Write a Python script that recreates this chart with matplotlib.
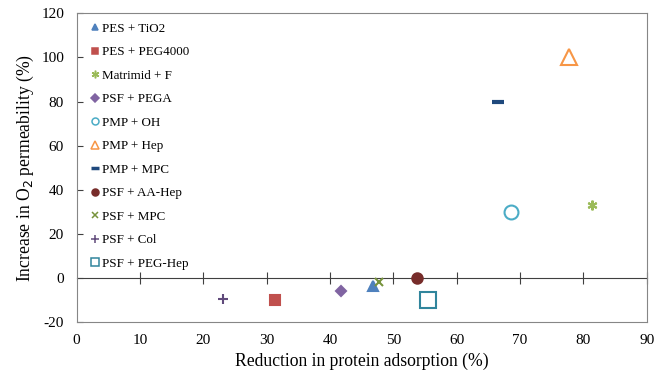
'''
Scatter of O2 permeability increase vs reduction in protein adsorption
'''

import matplotlib.pyplot as plt

plt.rcParams['font.family'] = ['Liberation Serif', 'DejaVu Serif']
plt.rcParams['axes.unicode_minus'] = False

labels = ["PES + TiO2", "PES + PEG4000", "Matrimid + F", "PSF + PEGA",
          "PMP + OH", "PMP + Hep", "PMP + MPC", "PSF + AA-Hep",
          "PSF + MPC", "PSF + Col", "PSF + PEG-Hep"]
reduction = [46.8, 31.3, 81.3, 41.7, 68.6, 77.8, 66.6, 53.8, 47.7, 23.1, 55.5]
increase = [-4, -10, 33, -6, 30, 100, 80, 0, -2, -9.5, -10]

# marker, colour, size, filled, legend size
styles = [
    ("^", "#4F81BD", 7, True, 5),
    ("s", "#C0504D", 7, True, 5),
    ((6, 2, 0), "#9BBB59", 7, True, 5.5),
    ("D", "#8064A2", 5.5, True, 4),
    ("o", "#4BACC6", 10, False, 5),
    ("^", "#F79646", 12, False, 5.5),
    ("_", "#1F497D", 8, True, 6),
    ("o", "#772C2A", 7.5, True, 5),
    ("x", "#77933C", 6, True, 5),
    ("+", "#604A7B", 6.5, True, 5.5),
    ("s", "#31859C", 11, False, 5.5),
]

fig = plt.figure(figsize=(6.66, 3.73), dpi=100)
ax = fig.add_axes([0.115, 0.1375, 0.856, 0.8265])

for lab, x, y, (m, c, s, filled, ls) in zip(labels, reduction, increase, styles):
    ew = 1.5
    if m == "_":
        ew = 3
    ax.plot([x], [y], linestyle="none", marker=m, markersize=s,
            color=c, markerfacecolor=c if filled else "white",
            markeredgecolor=c, markeredgewidth=ew, label=lab)

ax.set_xlim(0, 90)
ax.set_ylim(-20, 120)
ax.set_xticks(range(0, 91, 10))
ax.set_yticks(range(-20, 121, 20))
ax.tick_params(axis="y", direction="in", length=4, labelsize=11, pad=9,
               color="#404040")
ax.tick_params(axis="x", length=0, labelsize=11, pad=9)
for sp in ax.spines.values():
    sp.set_color("#868686")

# zero line with crossing ticks
zero = ax.secondary_xaxis(20 / 140)
zero.set_xticks(range(10, 91, 10))
zero.tick_params(direction="inout", length=8, labelbottom=False, labeltop=False,
                 color="#404040")
zero.spines["bottom"].set_color("#404040")

ax.set_xlabel("Reduction in protein adsorption (%)", fontsize=12.7)
ax.set_ylabel("Increase in O$_2$ permeability (%)", fontsize=12.7, labelpad=4)

leg = ax.legend(loc="upper left", frameon=False, fontsize=9.4, handlelength=0.6,
                handletextpad=0.2, labelspacing=0.87, borderaxespad=0.3,
                bbox_to_anchor=(0.01, 1.0))
for h, st in zip(leg.legend_handles, styles):
    h.set_markersize(st[4])
    h.set_markeredgewidth(1.1 if st[1] != "#1F497D" else 2.5)

fig.savefig("out.png", dpi=100)
